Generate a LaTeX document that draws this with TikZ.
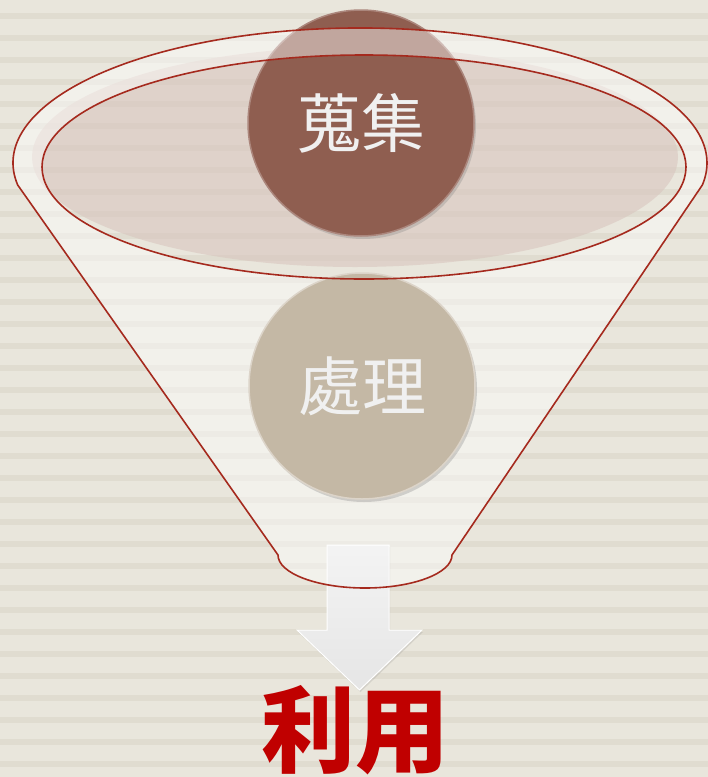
\documentclass[tikz,border=0pt]{standalone}
\usepackage{fontspec}
\newfontfamily\cjk{Noto Sans CJK TC}
\usetikzlibrary{shadows}
\definecolor{paper}{HTML}{E9E6DC}
\definecolor{stripe}{HTML}{E0DCD0}
\definecolor{rim}{HTML}{A52A1E}
\definecolor{brick}{HTML}{8F5E50}
\definecolor{sand}{HTML}{C4B8A5}
\definecolor{blush}{HTML}{D7C3BC}
\definecolor{deepred}{HTML}{C00000}
\def\W{708}
\def\H{777}
\def\orx{347}
\def\ory{135}
\def\irx{322}
\def\iry{112}
\def\brx{87}
\def\bry{33}

\begin{document}
\begin{tikzpicture}[x=1pt, y=-1pt,
  disc/.style={circle, minimum size=226pt, inner sep=0pt, text=white!94!black,
    font=\cjk\fontsize{64}{64}\selectfont, line width=1.5pt,
    drop shadow={opacity=0.3, shadow xshift=2pt, shadow yshift=-3pt}},
  rimline/.style={draw=rim, line width=1.6pt}]
  \useasboundingbox (0,0) rectangle (\W,\H);
    % background with stripes
  \fill[paper] (0,0) rectangle (\W,\H);
  \foreach \k in {0,...,34}
    \fill[stripe] (0,13+22*\k) rectangle (\W,19+22*\k);

    % glow inside the mouth
  \fill[blush, opacity=0.55] (355,157) ellipse [x radius=323, y radius=110];

  \node[disc, fill=brick, draw=brick!75!white] (collect) at (361,123) {蒐集};

    % funnel body
  \fill[white, opacity=0.45, even odd rule] (17.7,185)
    arc[start angle=170.6, end angle=369.4, x radius=\orx, y radius=\ory]
    -- (452,555) arc[start angle=0, end angle=180, x radius=\brx, y radius=\bry] -- cycle
    (364,167) ellipse [x radius=\irx, y radius=\iry];

  \node[disc, fill=sand, draw=sand!60!white] (process) at (362,386) {處理};

    % arrow
  \shade[top color=white!91!gray, bottom color=white!80!gray, draw=white, line width=1pt,
    drop shadow={opacity=0.2, shadow xshift=1pt, shadow yshift=-2pt}]
    (327,545) -- (389,545) -- (389,630) -- (422,630) -- (359.5,690)
    -- (297,630) -- (327,630) -- cycle;

    % outlines
  \draw[rimline] (17.7,185)
    arc[start angle=170.6, end angle=369.4, x radius=\orx, y radius=\ory]
    -- (452,555) arc[start angle=0, end angle=180, x radius=\brx, y radius=\bry] -- cycle;
  \draw[rimline] (364,167) ellipse [x radius=\irx, y radius=\iry];

  \node[text=deepred, font=\cjk\bfseries\fontsize{94}{94}\selectfont] (use) at (355,730) {利用};
\end{tikzpicture}
\end{document}
